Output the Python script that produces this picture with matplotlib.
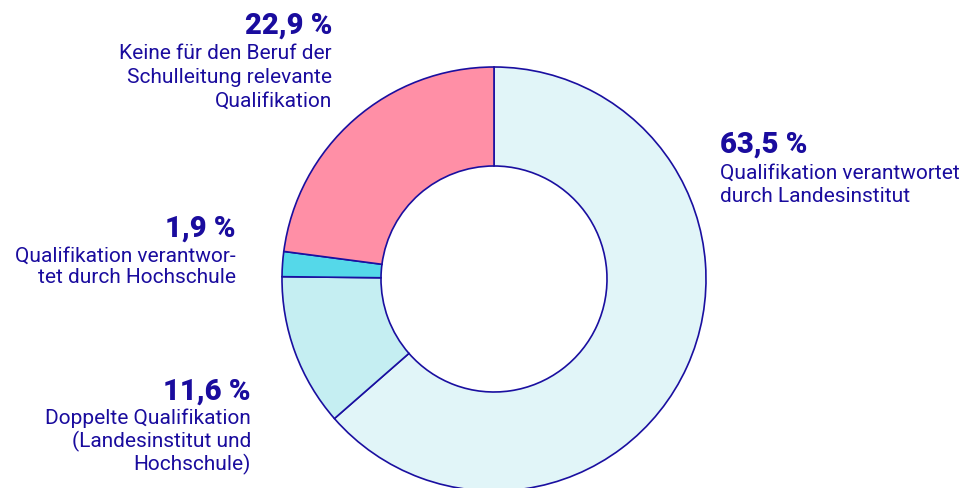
import matplotlib.pyplot as plt

# data (clockwise from 12 o'clock)
values = [63.5, 11.6, 1.9, 22.9]
pct_labels = ['63,5\u202f%', '11,6\u202f%', '1,9\u202f%', '22,9\u202f%']
descriptions = [
    ['Qualifikation verantwortet', 'durch Landesinstitut'],
    ['Doppelte Qualifikation', '(Landesinstitut und', 'Hochschule)'],
    ['Qualifikation verantwor-', 'tet durch Hochschule'],
    ['Keine für den Beruf der', 'Schulleitung relevante', 'Qualifikation'],
]
colors = ['#e1f5f8', '#c5eef2', '#55d8e9', '#ff8fa6']

DARK = '#1a0c9e'
W, H = 979, 489
plt.rcParams['font.family'] = ['Roboto', 'DejaVu Sans']

fig = plt.figure(figsize=(W / 100, H / 100), dpi=100)
ax = fig.add_axes([0, 0, 1, 1])

cx, cy, r = 494, H - 280, 212
ax.pie(values, colors=colors, startangle=90, counterclock=False,
       center=(cx, cy), radius=r, frame=True,
       wedgeprops=dict(width=99, edgecolor='#1a0fa0', linewidth=1.2))
ax.set_xlim(0, W)
ax.set_ylim(0, H)
ax.set_aspect('equal')
ax.axis('off')

# label placement: (x, align, bold baseline, first line baseline, spacing) in pixels
layout = [
    (720, 'left', 153, 179, 23.5),
    (251, 'right', 400, 424, 23.3),
    (236, 'right', 237, 262, 21.5),
    (332, 'right', 34, 59, 24.0),
]

for (x, ha, yb, y0, dy), pct, desc in zip(layout, pct_labels, descriptions):
    ax.text(x, H - yb, pct, ha=ha, va='baseline', fontsize=21,
            fontweight='black', color=DARK)
    for i, line in enumerate(desc):
        ax.text(x, H - (y0 + i * dy), line, ha=ha, va='baseline',
                fontsize=15, color=DARK)

fig.savefig('out.png', dpi=100, facecolor='white')
